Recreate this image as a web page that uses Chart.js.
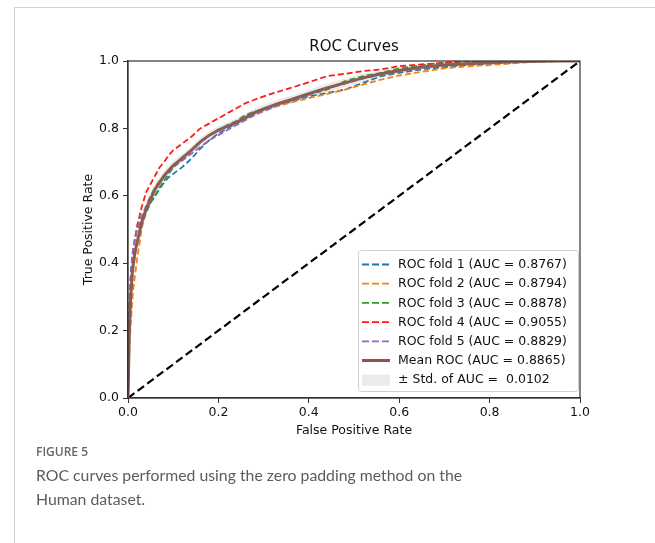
<!DOCTYPE html>
<html><head><meta charset="utf-8">
<script src="https://cdn.jsdelivr.net/npm/chart.js@4/dist/chart.umd.min.js"></script>
<style>
html,body{margin:0;padding:0;background:#fff;width:655px;height:543px;overflow:hidden;}
#frame{position:absolute;left:14px;top:7px;width:700px;height:600px;border-top:1.5px solid #d2d2d2;border-left:1.5px solid #d2d2d2;}
#wrap{position:absolute;left:0;top:0;width:655px;height:443px;}
#cap{position:absolute;left:36px;top:441px;font-family:Lato,'Open Sans',sans-serif;color:#5c5c5c;}
#cap .fig{font-family:'Open Sans',sans-serif;font-size:12px;font-weight:600;color:#666;line-height:22px;}
#cap .txt{font-size:15.8px;line-height:24px;}
</style></head>
<body>
<div id="frame"></div>
<div id="wrap"><canvas id="c" width="655" height="443"></canvas></div>
<div id="cap"><div class="fig">FIGURE 5</div><div class="txt">ROC curves performed using the zero padding method on the<br>Human dataset.</div></div>
<script>
// ---- data ----
const fpr = [0,0.003,0.006,0.01,0.015,0.02,0.03,0.04,0.05,0.06,0.07,0.08,0.09,0.1,0.12,0.14,0.16,0.18,0.2,0.22,0.24,0.26,0.28,0.3,0.33,0.36,0.4,0.44,0.48,0.52,0.56,0.6,0.65,0.7,0.75,0.8,0.85,0.9,0.95,1.0];
const tprFold1 = [0,0.22,0.3,0.37,0.42,0.46,0.51,0.55,0.58,0.60,0.62,0.64,0.655,0.665,0.685,0.71,0.74,0.765,0.785,0.80,0.815,0.83,0.845,0.855,0.87,0.88,0.895,0.905,0.915,0.935,0.955,0.965,0.975,0.982,0.988,0.992,0.995,0.998,1,1];
const tprFold2 = [0,0.15,0.22,0.3,0.36,0.41,0.5,0.56,0.60,0.625,0.645,0.66,0.675,0.688,0.71,0.735,0.76,0.78,0.795,0.805,0.815,0.828,0.84,0.852,0.866,0.877,0.89,0.902,0.915,0.93,0.945,0.957,0.968,0.978,0.984,0.988,0.993,0.998,1,1];
const tprFold3 = [0,0.25,0.35,0.42,0.47,0.5,0.53,0.555,0.58,0.60,0.625,0.645,0.665,0.685,0.715,0.735,0.76,0.78,0.795,0.81,0.822,0.84,0.85,0.857,0.87,0.883,0.9,0.915,0.94,0.955,0.965,0.978,0.988,0.995,0.998,1,1,1,1,1];
const tprFold4 = [0,0.25,0.35,0.42,0.47,0.51,0.565,0.61,0.635,0.66,0.685,0.70,0.72,0.735,0.755,0.775,0.80,0.815,0.83,0.845,0.86,0.875,0.885,0.895,0.908,0.92,0.937,0.955,0.962,0.97,0.975,0.985,0.99,0.994,1,1,1,1,1,1];
const tprFold5 = [0,0.28,0.37,0.43,0.47,0.5,0.54,0.57,0.6,0.62,0.64,0.655,0.67,0.685,0.705,0.725,0.745,0.765,0.78,0.795,0.81,0.825,0.84,0.852,0.868,0.882,0.9,0.918,0.933,0.948,0.96,0.97,0.98,0.988,0.993,0.996,0.998,1,1,1];
const tprMean  = [0,0.2,0.3,0.38,0.43,0.46,0.52,0.56,0.59,0.62,0.64,0.66,0.675,0.69,0.712,0.735,0.76,0.78,0.795,0.807,0.818,0.832,0.847,0.858,0.873,0.885,0.903,0.92,0.935,0.95,0.962,0.972,0.982,0.988,0.992,0.995,0.998,0.999,1,1];
const stdUpper = [0,0.25,0.35,0.42,0.46,0.49,0.54,0.58,0.61,0.635,0.655,0.675,0.69,0.703,0.725,0.747,0.772,0.792,0.807,0.819,0.83,0.844,0.859,0.87,0.885,0.897,0.915,0.933,0.948,0.962,0.972,0.982,0.99,0.995,0.998,1,1,1,1,1];
const stdLower = [0,0.15,0.25,0.34,0.4,0.43,0.5,0.54,0.57,0.605,0.625,0.645,0.66,0.677,0.699,0.723,0.748,0.768,0.783,0.795,0.806,0.82,0.835,0.846,0.861,0.873,0.891,0.907,0.922,0.938,0.952,0.962,0.974,0.981,0.986,0.99,0.994,0.997,1,1];
const chanceX = [0,1];
const chanceY = [0,1];
const foldLabels = ['ROC fold 1 (AUC = 0.8767)','ROC fold 2 (AUC = 0.8794)','ROC fold 3 (AUC = 0.8878)','ROC fold 4 (AUC = 0.9055)','ROC fold 5 (AUC = 0.8829)'];
const meanLabel = 'Mean ROC (AUC = 0.8865)';
const stdLabel = '\u00B1 Std. of AUC =  0.0102';
const axisTicks = [0,0.2,0.4,0.6,0.8,1.0];

// ---- styles ----
const foldColors = ['#1f77b4','#ff7f0e','#2ca02c','#ff1a1a','#9467bd'];
const meanColor = '#8c564b';
const bandColor = 'rgba(128,128,128,0.16)';
const pts = (xs, ys) => xs.map((x, i) => ({x: x, y: ys[i]}));
const foldTprs = [tprFold1,tprFold2,tprFold3,tprFold4,tprFold5];

const datasets = [];
foldTprs.forEach((t, i) => datasets.push({
  label: foldLabels[i], data: pts(fpr, t), borderColor: foldColors[i], backgroundColor: foldColors[i],
  borderWidth: 1.8, borderDash: [6,3], showLine: true, pointRadius: 0, fill: false, order: 10 - i
}));
datasets.push({label: null, data: pts(chanceX, chanceY), borderColor: '#000', borderWidth: 2.2, borderDash: [8,4], showLine: true, pointRadius: 0, fill: false, order: 3});
datasets.push({label: meanLabel, data: pts(fpr, tprMean), borderColor: meanColor, backgroundColor: meanColor, borderWidth: 3, showLine: true, pointRadius: 0, fill: false, order: 2});
datasets.push({label: null, data: pts(fpr, stdLower), borderColor: 'rgba(0,0,0,0)', borderWidth: 0, showLine: true, pointRadius: 0, fill: false, order: 1});
datasets.push({label: stdLabel, legendBox: true, data: pts(fpr, stdUpper), borderColor: 'rgba(0,0,0,0)', backgroundColor: bandColor, borderWidth: 0, showLine: true, pointRadius: 0, fill: '-1', order: 0});

const frameAndLegend = {
  id: 'frameAndLegend',
  afterDraw(chart) {
    const ctx = chart.ctx, a = chart.chartArea;
    ctx.save();
    ctx.strokeStyle = '#333'; ctx.lineWidth = 1.2;
    ctx.strokeRect(a.left, a.top, a.right - a.left, a.bottom - a.top);
    // legend box
    const bw = 220, bh = 141;
    const bx = a.right - 2 - bw, by = a.bottom - 7 - bh;
    ctx.beginPath();
    if (ctx.roundRect) ctx.roundRect(bx + 0.5, by + 0.5, bw, bh, 3); else ctx.rect(bx + 0.5, by + 0.5, bw, bh);
    ctx.fillStyle = 'rgba(255,255,255,0.85)'; ctx.fill();
    ctx.strokeStyle = '#d0d0d0'; ctx.lineWidth = 1; ctx.stroke();
    const items = chart.data.datasets.filter(d => d.label);
    ctx.font = '12.5px "DejaVu Sans"'; ctx.textBaseline = 'middle'; ctx.textAlign = 'left';
    items.forEach((d, i) => {
      const cy = by + 14.5 + i * 19.2;
      if (d.legendBox) {
        ctx.fillStyle = d.backgroundColor; ctx.fillRect(bx + 4, cy - 5, 28, 11);
      } else {
        ctx.beginPath(); ctx.setLineDash(d.borderDash ? [7,3] : []);
        ctx.strokeStyle = d.borderColor; ctx.lineWidth = d.borderWidth;
        ctx.moveTo(bx + 4, cy); ctx.lineTo(bx + 32, cy); ctx.stroke(); ctx.setLineDash([]);
      }
      ctx.fillStyle = '#111'; ctx.fillText(d.label, bx + 40, cy + 0.5);
    });
    ctx.restore();
  }
};

Chart.defaults.font.family = '"DejaVu Sans", sans-serif';
Chart.defaults.color = '#111';
new Chart(document.getElementById('c'), {
  type: 'scatter',
  data: {datasets: datasets},
  plugins: [frameAndLegend],
  options: {
    responsive: false, animation: false,
    layout: {padding: {left: 0, right: 75, top: 38, bottom: 0}},
    plugins: {
      legend: {display: false}, tooltip: {enabled: false},
      title: {display: true, text: 'ROC Curves', fullSize: false, color: '#111', font: {size: 15, weight: 'normal'}, padding: {top: 0, bottom: 5}}
    },
    scales: {
      x: {
        type: 'linear', min: 0, max: 1,
        afterFit: s => { s.height = 45; },
        afterBuildTicks: s => { s.ticks = axisTicks.map(v => ({value: v})); },
        ticks: {font: {size: 12.5}, padding: 2, maxRotation: 0, callback: v => v.toFixed(1)},
        grid: {drawOnChartArea: false, drawTicks: true, tickLength: 5, color: '#333'},
        border: {display: true, color: '#333', width: 1.2},
        title: {display: true, text: 'False Positive Rate', font: {size: 12.5}, padding: {top: 0, bottom: 5}}
      },
      y: {
        type: 'linear', min: 0, max: 1,
        afterFit: s => { s.width = 128; },
        afterBuildTicks: s => { s.ticks = axisTicks.map(v => ({value: v})); },
        ticks: {font: {size: 12.5}, padding: 4, callback: v => v.toFixed(1)},
        grid: {drawOnChartArea: false, drawTicks: true, tickLength: 5, color: '#333'},
        border: {display: true, color: '#333', width: 1.2},
        title: {display: true, text: 'True Positive Rate', font: {size: 12.5}, padding: {top: 81, bottom: 0}}
      }
    }
  }
});
</script>
</body></html>
